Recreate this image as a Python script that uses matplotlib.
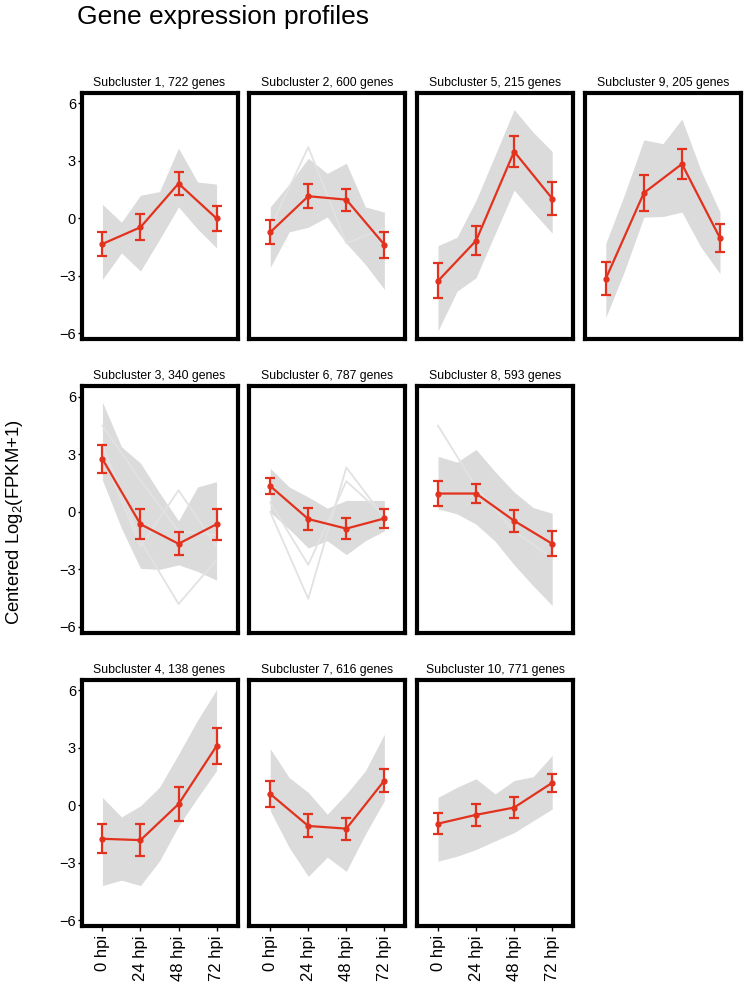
import matplotlib
matplotlib.use("Agg")
import matplotlib.pyplot as plt
import numpy as np

plt.rcParams["font.family"] = ["Liberation Sans", "DejaVu Sans"]

time_labels = ["0 hpi", "24 hpi", "48 hpi", "72 hpi"]
panel_rows = [[1, 2, 5, 9], [3, 6, 8], [4, 7, 10]]

gene_counts = {1: 722, 2: 600, 5: 215, 9: 205, 3: 340, 6: 787, 8: 593, 4: 138, 7: 616, 10: 771}

# red line: mean centered log2(FPKM+1) per time point, with sd
means = {
    1: [-1.33, -0.46, 1.82, 0.0],
    2: [-0.72, 1.16, 0.98, -1.37],
    5: [-3.26, -1.16, 3.49, 1.04],
    9: [-3.14, 1.33, 2.84, -1.02],
    3: [2.76, -0.64, -1.66, -0.64],
    6: [1.35, -0.37, -0.87, -0.34],
    8: [0.96, 0.96, -0.46, -1.66],
    4: [-1.74, -1.81, 0.07, 3.10],
    7: [0.60, -1.07, -1.21, 1.30],
    10: [-0.95, -0.49, -0.11, 1.18],
}
sds = {
    1: [0.62, 0.68, 0.58, 0.64],
    2: [0.63, 0.62, 0.58, 0.68],
    5: [0.91, 0.76, 0.79, 0.84],
    9: [0.88, 0.92, 0.80, 0.73],
    3: [0.71, 0.78, 0.60, 0.80],
    6: [0.40, 0.57, 0.53, 0.50],
    8: [0.66, 0.50, 0.57, 0.65],
    4: [0.75, 0.82, 0.90, 0.92],
    7: [0.68, 0.60, 0.57, 0.61],
    10: [0.56, 0.59, 0.54, 0.47],
}

# grey cloud of gene profiles: upper / lower edge, read at each time point
# and half way between time points
band_x = [1, 1.5, 2, 2.5, 3, 3.5, 4]
band_hi = {
    1: [0.74, -0.2, 1.21, 1.4, 3.67, 1.9, 1.79],
    2: [0.60, 1.8, 3.14, 2.35, 2.88, 0.6, 0.33],
    5: [-1.42, -0.98, 0.95, 3.3, 5.68, 4.5, 3.49],
    9: [-1.30, 1.3, 4.10, 3.9, 5.19, 2.5, 0.33],
    3: [5.73, 3.4, 2.55, 1.0, -0.46, 1.3, 1.58],
    6: [2.28, 1.3, 0.78, 0.2, 0.60, 0.6, 0.60],
    8: [2.90, 2.6, 3.26, 2.1, 1.04, 0.23, -0.07],
    4: [0.42, -0.6, -0.02, 0.95, 2.67, 4.45, 6.04],
    7: [2.96, 1.45, 0.68, -0.46, 0.60, 1.8, 3.72],
    10: [0.42, 0.95, 1.39, 0.6, 1.30, 1.5, 2.61],
}
band_lo = {
    1: [-3.18, -1.8, -2.74, -1.1, 0.60, -0.55, -1.54],
    2: [-2.56, -0.7, -0.46, 0.07, -1.30, -2.4, -3.70],
    5: [-5.86, -3.8, -3.09, -0.8, 1.47, 0.33, -0.77],
    9: [-5.16, -2.7, 0.07, 0.1, 0.33, -1.5, -2.88],
    3: [1.66, -0.85, -2.94, -3.0, -2.76, -3.1, -3.56],
    6: [-0.02, -0.9, -1.88, -1.5, -2.23, -1.5, -0.99],
    8: [0.16, -0.1, -0.64, -1.53, -2.76, -3.85, -4.88],
    4: [-4.18, -3.9, -4.18, -2.9, -1.07, 0.4, 1.82],
    7: [-0.28, -2.2, -3.70, -2.7, -3.44, -1.5, 0.25],
    10: [-2.91, -2.65, -2.30, -1.85, -1.42, -0.8, -0.19],
}
# single genes that stand out from the grey cloud
outlier_genes = {
    2: [[-0.5, 3.72, -1.3, -0.5]],
    3: [[3.0, -1.8, 1.13, -1.8], [3.5, -1.5, -4.8, -2.5], [4.5, 1.66, -1.0, -1.2]],
    6: [[0.0, -4.53, 2.32, -0.3], [0.5, -2.76, 1.6, -0.2]],
    8: [[4.5, 1.3, -1.0, -2.4]],
}

red = "#E2321E"
grey = "#DBDBDB"

W, H = 750, 984
fig = plt.figure(figsize=(W / 100, H / 100), dpi=100)

col_left = [81.5, 249.3, 417.1, 584.9]
row_top = [92.7, 386.2, 679.7]
pw, ph = 156, 246.5
x = np.arange(1, 5)

for r, row in enumerate(panel_rows):
    for c, cid in enumerate(row):
        ax = fig.add_axes([col_left[c] / W, 1 - (row_top[r] + ph) / H, pw / W, ph / H])
        ax.fill_between(band_x, band_lo[cid], band_hi[cid], color=grey, lw=0, zorder=1)
        for g in outlier_genes.get(cid, []):
            ax.plot(x, g, color="#E2E2E2", lw=1.3, zorder=1.5)
        ax.errorbar(x, means[cid], yerr=sds[cid], color=red, lw=1.6, elinewidth=1.6,
                    capsize=3.5, capthick=1.6, marker="o", ms=3.5, zorder=3)
        ax.set_xlim(0.45, 4.55)
        ax.set_ylim(-6.3, 6.56)
        for s in ax.spines.values():
            s.set_linewidth(3)
            s.set_color("black")
        ax.set_title(f"Subcluster {cid}, {gene_counts[cid]} genes", fontsize=8.8, pad=5)
        ax.set_yticks([-6, -3, 0, 3, 6])
        ax.set_xticks(x)
        if c == 0:
            ax.tick_params(axis="y", length=3, width=1, labelsize=10.5, pad=1)
        else:
            ax.tick_params(axis="y", left=False, labelleft=False)
        if r == 2:
            ax.set_xticklabels(time_labels, rotation=90)
            ax.tick_params(axis="x", length=3.5, width=1, labelsize=12, pad=3)
        else:
            ax.tick_params(axis="x", bottom=False, labelbottom=False)

fig.text(77 / W, 1 - 5 / H, "Gene expression profiles", fontsize=19, va="top", ha="left")
fig.text(15 / W, 1 - 522 / H, r"Centered Log$_{\mathregular{2}}$(FPKM+1)", fontsize=13.3,
         rotation=90, va="center", ha="center")

fig.savefig("out.png", dpi=100)
